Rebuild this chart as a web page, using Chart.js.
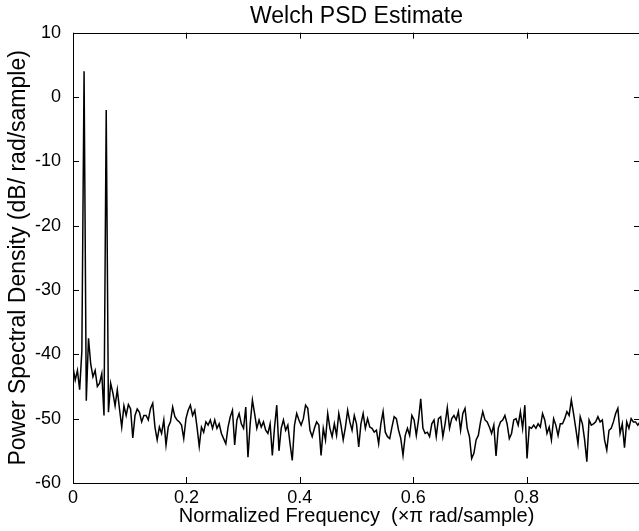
<!DOCTYPE html>
<html>
<head>
<meta charset="utf-8">
<script src="https://cdn.jsdelivr.net/npm/chart.js@4/dist/chart.umd.min.js"></script>
<style>
  html, body { margin: 0; padding: 0; background: #fff; overflow: hidden; }
  canvas { display: block; }
</style>
</head>
<body>
<canvas id="psdChart" width="644" height="531"></canvas>
<script>
// Welch PSD estimate (dB / rad/sample), one value per frequency bin
const freqStep = 1 / 256;
const psdDb = [
  -42, -44, -42.5, -45.5, -39.5, 4, -47.2, -37.5, -41.5, -43.5,
  -42.5, -45, -44.5, -43, -49.5, -2, -49, -44.5, -46, -48,
  -45.5, -48.5, -51.3, -48, -49.5, -47.8, -48.5, -53, -49.5, -48.5,
  -49, -50.5, -49.5, -49.5, -50.2, -48.4, -47.6, -51.3, -53.3, -51.3,
  -52.3, -50.2, -54.1, -51.3, -50.5, -48.2, -49.7, -50.2, -50.5, -51,
  -53.1, -50, -48.7, -47.9, -49.5, -48.7, -51.3, -54.3, -51.3, -52.1,
  -50.5, -51, -50.2, -51.5, -50.2, -51.5, -50.8, -52.3, -53.1, -53.9,
  -51.3, -49.7, -48.7, -54.1, -50.2, -49.2, -50.8, -51.5, -48.2, -56,
  -50.8, -47.1, -49.2, -51.5, -50.2, -51.3, -50.5, -51.8, -52.3, -50.8,
  -55.7, -51.3, -47.9, -55, -51.5, -50.2, -51.8, -51, -53.9, -56.5,
  -51, -49.2, -50.2, -51, -50, -47.9, -48.4, -51.8, -52.8, -51.5,
  -50.5, -51, -55.7, -51.5, -53.3, -49.2, -51.5, -52.8, -50.8, -52.6,
  -49.2, -51, -53.3, -51.3, -48.7, -50.5, -51.8, -49.5, -50.8, -54.4,
  -50.8, -49.2, -51.5, -50, -51.3, -51.5, -52.1, -51.8, -53.9, -50.8,
  -48.9, -52.1, -52.8, -53.1, -51.3, -49.7, -50, -51.8, -53.1, -55.7,
  -52.6, -51.5, -52.6, -49.5, -50.2, -52.6, -50.2, -46.9, -51.5, -52.3,
  -52.1, -52.8, -50.8, -50.2, -52.8, -50, -49.7, -52.8, -50.8, -48.3,
  -51.5, -50, -49.5, -50.2, -48.9, -51.8, -49.2, -48.4, -51.5, -52.8,
  -56.2, -55.4, -53.3, -52.6, -50.5, -48.9, -50.2, -50.5, -51.3, -52.3,
  -51, -55.8, -51.5, -50.5, -50.2, -49.5, -50.8, -53.1, -52.3, -50.2,
  -50, -51, -48.9, -51.5, -47.9, -56.2, -51.3, -51.5, -51, -51.5,
  -50.8, -51.3, -49.2, -50.2, -52.3, -51.3, -53.3, -50, -51, -52.6,
  -50.8, -50.8, -50, -48.9, -49.5, -47.1, -49.2, -51.5, -53.9, -49.7,
  -50.8, -53.3, -56.7, -50.2, -51, -50.8, -50.5, -49.7, -50.5, -50.2,
  -53.3, -54.9, -51.8, -51.5, -50.5, -49.2, -48.4, -52.3, -50.8, -54.5,
  -50.5, -51.5, -50, -50.5, -50.5, -51, -50.5
];

const xTicks = [0, 0.2, 0.4, 0.6, 0.8, 1];
const xTickLabels = ['0', '0.2', '0.4', '0.6', '0.8', ''];
const yTicks = [-60, -50, -40, -30, -20, -10, 0, 10];

const points = psdDb.map((v, i) => ({ x: i * freqStep, y: v }));

// MATLAB-like box with inward tick marks
const boxTicks = {
  id: 'boxTicks',
  afterDraw(chart) {
    const { ctx, chartArea: a, scales } = chart;
    const len = 6;
    ctx.save();
    ctx.strokeStyle = '#000';
    ctx.lineWidth = 1;
    ctx.strokeRect(Math.round(a.left) + 0.5, Math.round(a.top) + 0.5,
      Math.round(a.right - a.left), Math.round(a.bottom - a.top));
    ctx.beginPath();
    xTicks.forEach(v => {
      const px = Math.round(scales.x.getPixelForValue(v)) + 0.5;
      ctx.moveTo(px, a.bottom); ctx.lineTo(px, a.bottom - len);
      ctx.moveTo(px, a.top); ctx.lineTo(px, a.top + len);
    });
    yTicks.forEach(v => {
      const py = Math.round(scales.y.getPixelForValue(v)) + 0.5;
      ctx.moveTo(a.left, py); ctx.lineTo(a.left + len, py);
      ctx.moveTo(a.right, py); ctx.lineTo(a.right - len, py);
    });
    ctx.stroke();
    ctx.restore();
  }
};

const font = 'Liberation Sans, Arial, Helvetica, sans-serif';

new Chart(document.getElementById('psdChart').getContext('2d'), {
  type: 'line',
  data: {
    datasets: [{
      data: points,
      borderColor: '#000',
      borderWidth: 1.5,
      pointRadius: 0,
      tension: 0,
      fill: false
    }]
  },
  options: {
    responsive: false,
    animation: false,
    layout: { padding: { right: 1 } },
    plugins: {
      legend: { display: false },
      tooltip: { enabled: false },
      title: {
        display: true,
        fullSize: false,
        text: 'Welch PSD Estimate',
        color: '#000',
        font: { family: font, size: 23, weight: 'normal' },
        padding: { top: 3.2, bottom: 1.9 }
      }
    },
    scales: {
      x: {
        type: 'linear',
        min: 0,
        max: 1,
        afterFit: s => { s.height = 48; },
        afterBuildTicks: s => { s.ticks = xTicks.map(v => ({ value: v })); },
        grid: { display: false, drawTicks: false },
        border: { display: false },
        ticks: {
          color: '#000',
          padding: 4,
          maxRotation: 0,
          autoSkip: false,
          font: { family: font, size: 18 },
          callback: (v, i) => xTickLabels[i]
        },
        title: {
          display: true,
          text: 'Normalized Frequency  (×π rad/sample)',
          color: '#000',
          font: { family: font, size: 20 },
          padding: { bottom: 3 }
        }
      },
      y: {
        min: -60,
        max: 10,
        afterFit: s => { s.width = 73; },
        afterBuildTicks: s => { s.ticks = yTicks.map(v => ({ value: v })); },
        grid: { display: false, drawTicks: false },
        border: { display: false },
        ticks: {
          color: '#000',
          padding: 12,
          autoSkip: false,
          font: { family: font, size: 18 }
        },
        title: {
          display: true,
          text: 'Power Spectral Density (dB/ rad/sample)',
          color: '#000',
          font: { family: font, size: 23 },
          padding: { top: 5 }
        }
      }
    }
  },
  plugins: [boxTicks]
});
</script>
</body>
</html>
